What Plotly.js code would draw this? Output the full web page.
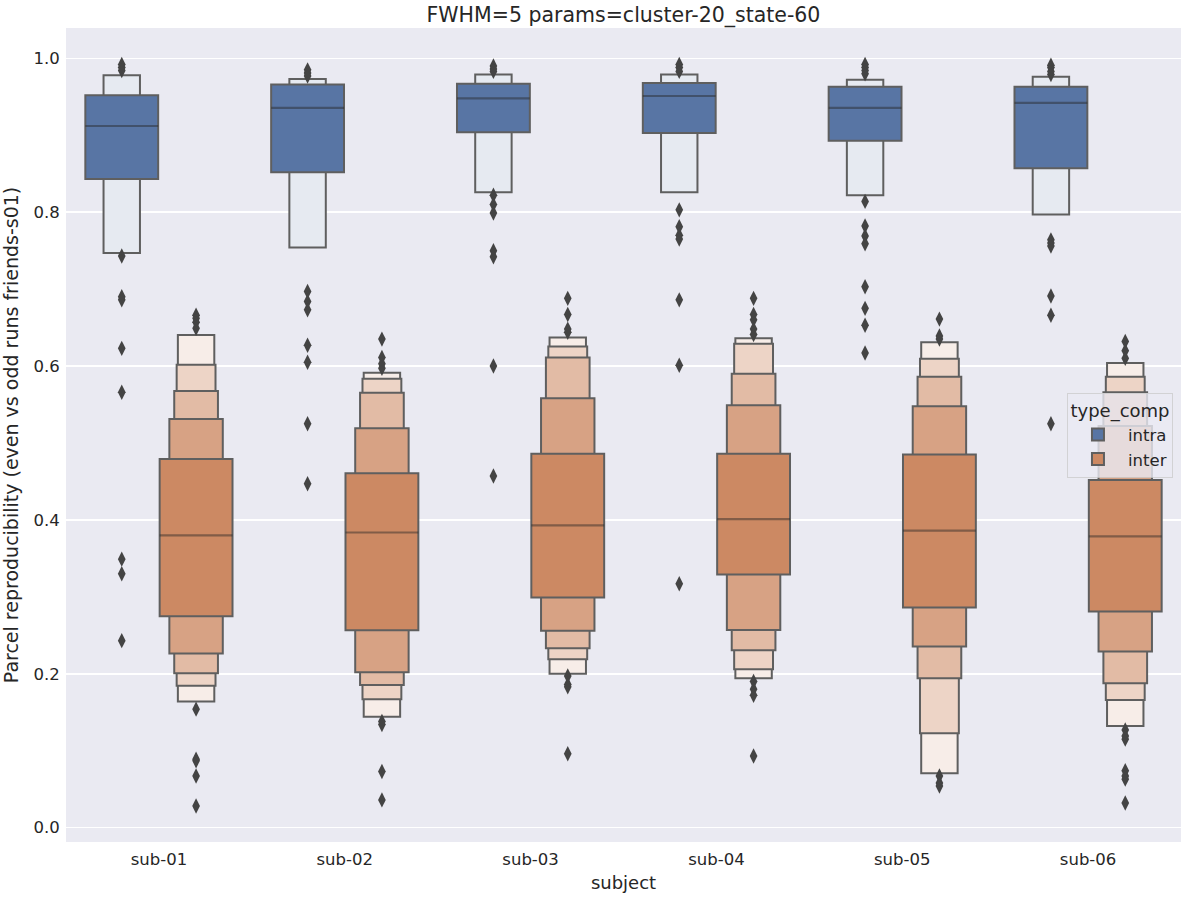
<!DOCTYPE html>
<html>
<head>
<meta charset="utf-8">
<script src="https://cdn.plot.ly/plotly-3.0.1.min.js"></script>
<style>html,body{margin:0;padding:0;background:#fff;}#chart{width:1188px;height:899px;}</style>
</head>
<body>
<div id="chart"></div>
<script>
// ---------------- data ----------------
const subjects = ['sub-01', 'sub-02', 'sub-03', 'sub-04', 'sub-05', 'sub-06'];
const hues = ['intra', 'inter'];

// letter-value box ends, innermost level first
const intraLow = [[0.843, 0.747], [0.852, 0.754], [0.904, 0.826], [0.903, 0.826], [0.893, 0.822], [0.857, 0.797]];
const intraHigh = [[0.952, 0.978], [0.966, 0.973], [0.967, 0.979], [0.968, 0.979], [0.963, 0.972], [0.963, 0.976]];
const intraMedian = [0.912, 0.9355, 0.948, 0.951, 0.9355, 0.942];
const intraOutliers = [
  [0.992, 0.988, 0.984, 0.743, 0.690, 0.686, 0.623, 0.566, 0.349, 0.330, 0.243],
  [0.985, 0.981, 0.977, 0.697, 0.684, 0.673, 0.627, 0.605, 0.525, 0.447],
  [0.990, 0.986, 0.983, 0.822, 0.810, 0.799, 0.750, 0.742, 0.600, 0.457],
  [0.992, 0.988, 0.983, 0.803, 0.781, 0.770, 0.765, 0.686, 0.601, 0.317],
  [0.992, 0.988, 0.984, 0.980, 0.814, 0.782, 0.769, 0.759, 0.703, 0.675, 0.653, 0.617],
  [0.991, 0.988, 0.983, 0.979, 0.764, 0.760, 0.756, 0.691, 0.666, 0.525]
];

const interLow = [
  [0.2747, 0.2264, 0.2005, 0.1845, 0.164],
  [0.2565, 0.2018, 0.1854, 0.1667, 0.144],
  [0.299, 0.256, 0.233, 0.219, 0.200],
  [0.329, 0.257, 0.2305, 0.206, 0.194],
  [0.286, 0.2355, 0.194, 0.1225, 0.0706],
  [0.281, 0.229, 0.1877, 0.166, 0.132]
];
const interHigh = [
  [0.479, 0.531, 0.5677, 0.6018, 0.6405],
  [0.4606, 0.519, 0.5654, 0.5836, 0.5913],
  [0.486, 0.558, 0.611, 0.6255, 0.637],
  [0.486, 0.549, 0.590, 0.629, 0.636],
  [0.485, 0.5476, 0.586, 0.6096, 0.631],
  [0.452, 0.522, 0.566, 0.586, 0.604]
];
const interMedian = [0.380, 0.3836, 0.393, 0.401, 0.386, 0.3786];
const interOutliers = [
  [0.666, 0.662, 0.657, 0.649, 0.154, 0.089, 0.087, 0.067, 0.028],
  [0.635, 0.611, 0.603, 0.597, 0.138, 0.134, 0.073, 0.036],
  [0.688, 0.667, 0.648, 0.644, 0.197, 0.186, 0.183, 0.096],
  [0.688, 0.667, 0.660, 0.648, 0.641, 0.190, 0.180, 0.172, 0.093],
  [0.661, 0.639, 0.635, 0.067, 0.058, 0.054],
  [0.632, 0.620, 0.610, 0.127, 0.119, 0.115, 0.074, 0.067, 0.063, 0.032]
];

const yTicks = [0.0, 0.2, 0.4, 0.6, 0.8, 1.0];

// ---------------- styling ----------------
const FONT = 'DejaVu Sans, sans-serif';
const TEXT = '#262626';
const EDGE = '#5f5f5f';
const FLIER = '#444444';
const BOXW = 0.392;     // width of one hue's box in category units
const DODGE = 0.2;      // hue offset from category centre
const baseColors = [[88, 117, 164], [204, 137, 99]];

const lows = [intraLow, interLow];
const highs = [intraHigh, interHigh];
const medians = [intraMedian, interMedian];
const fliers = [intraOutliers, interOutliers];

function relWidth(L, k) {
  if (k < 2) return 1;
  return 0.5 + 0.5 * (Math.pow(2, k - 1 - L) - 1) / (Math.pow(2, k - 1) - 1);
}
function levelColor(base, L, k) {
  const t = k < 2 ? 0 : 0.85 * L / (k - 1);
  const c = base.map(v => Math.round(v * (1 - t) + 255 * t));
  return 'rgb(' + c.join(',') + ')';
}

const traces = [];
hues.forEach((hue, h) => {
  const off = h === 0 ? -DODGE : DODGE;
  const k = Math.max(...lows[h].map(a => a.length));
  for (let L = k - 1; L >= 0; L--) {
    const xs = [], bases = [], ys = [];
    subjects.forEach((s, i) => {
      if (lows[h][i].length > L) {
        xs.push(i + off);
        bases.push(lows[h][i][L]);
        ys.push(highs[h][i][L] - lows[h][i][L]);
      }
    });
    traces.push({
      type: 'bar', x: xs, y: ys, base: bases,
      width: BOXW * relWidth(L, k),
      marker: {color: levelColor(baseColors[h], L, k), line: {color: EDGE, width: 2}},
      name: hue, legendgroup: hue, showlegend: L === 0,
      hoverinfo: 'skip'
    });
  }
});
// medians
hues.forEach((hue, h) => {
  const off = h === 0 ? -DODGE : DODGE;
  const xs = [], ys = [];
  subjects.forEach((s, i) => {
    xs.push(i + off - BOXW / 2, i + off + BOXW / 2, null);
    ys.push(medians[h][i], medians[h][i], null);
  });
  traces.push({type: 'scatter', mode: 'lines', x: xs, y: ys,
    line: {color: 'rgba(38,38,38,0.45)', width: 2.2}, showlegend: false, hoverinfo: 'skip'});
});
// outliers
hues.forEach((hue, h) => {
  const off = h === 0 ? -DODGE : DODGE;
  const xs = [], ys = [];
  subjects.forEach((s, i) => {
    fliers[h][i].forEach(v => { xs.push(i + off); ys.push(v); });
  });
  traces.push({type: 'scatter', mode: 'markers', x: xs, y: ys,
    marker: {symbol: 'diamond-tall', size: 11, color: FLIER, line: {width: 0}},
    showlegend: false, hoverinfo: 'skip'});
});

const layout = {
  width: 1188, height: 899,
  paper_bgcolor: '#ffffff', plot_bgcolor: '#eaeaf2',
  margin: {l: 66, r: 7, t: 28, b: 57},
  barmode: 'overlay',
  font: {family: FONT, color: TEXT, size: 16.5},
  title: {text: 'FWHM=5 params=cluster-20_state-60', font: {family: FONT, size: 20.5, color: TEXT},
          x: 0.5, xref: 'paper', y: 1 - 15 / 899, yref: 'container', yanchor: 'middle'},
  xaxis: {
    range: [-0.5, 5.5], tickmode: 'array', tickvals: subjects.map((s, i) => i), ticktext: subjects,
    showgrid: false, zeroline: false, showline: false,
    ticks: 'outside', ticklen: 2, tickcolor: 'rgba(0,0,0,0)',
    tickfont: {family: FONT, size: 16.5, color: TEXT},
    title: {text: 'subject', font: {family: FONT, size: 18, color: TEXT}, standoff: 8}
  },
  yaxis: {
    range: [-0.0187, 1.0394], tickmode: 'array', tickvals: yTicks, tickformat: '.1f',
    showgrid: true, gridcolor: '#ffffff', gridwidth: 1.5, zeroline: false, showline: false,
    ticks: 'outside', ticklen: 2, tickcolor: 'rgba(0,0,0,0)',
    tickfont: {family: FONT, size: 16.5, color: TEXT},
    title: {text: 'Parcel reproducibility (even vs odd runs friends-s01)', font: {family: FONT, size: 19, color: TEXT}, standoff: 9}
  },
  legend: {
    x: 0.9928, xanchor: 'right', y: 0.5516, yanchor: 'top',
    bgcolor: 'rgba(234,234,242,0.8)', bordercolor: 'rgba(204,204,204,0.8)', borderwidth: 1,
    font: {family: FONT, size: 16.5, color: TEXT},
    title: {text: 'type_comp', side: 'top center', font: {family: FONT, size: 18, color: TEXT}},
    itemwidth: 50,
    traceorder: 'normal'
  },
  showlegend: true
};

Plotly.newPlot('chart', traces, layout, {displayModeBar: false, staticPlot: true});
</script>
</body>
</html>
